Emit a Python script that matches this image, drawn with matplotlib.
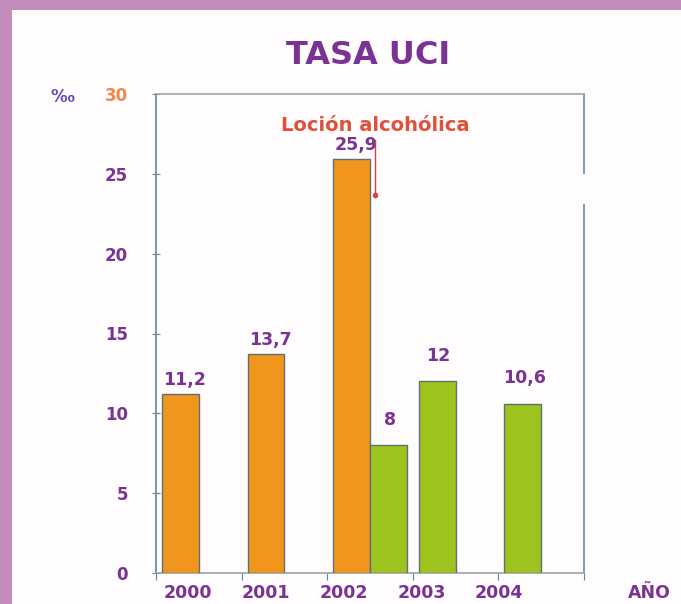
import matplotlib.pyplot as plt
from matplotlib.patches import Rectangle

# data
years = ["2000", "2001", "2002", "2003", "2004"]
orange_vals = [11.2, 13.7, 25.9]          # 2000-2002, before
orange_labels = ["11,2", "13,7", "25,9"]
green_years = [2, 3, 4]                    # index of category
green_slot = [1, 0, 0]                     # 2002 green sits beside orange
green_vals = [8, 12, 10.6]
green_labels = ["8", "12", "10,6"]
yticks = [0, 5, 10, 15, 20, 25, 30]
note = "Loción alcohólica"
note_x = 2.56

W, H = 681, 604
purple = "#7a3393"
orange = "#f0961c"
green = "#9dc41e"
edge = "#5f6f78"

fig = plt.figure(figsize=(W / 100, H / 100), dpi=100)
fig.patch.set_facecolor("#c48cbd")
# white panel inside the mauve frame
fig.patches.append(Rectangle((12 / W, 0), 1, (H - 10) / H, transform=fig.transFigure,
                             facecolor="#fffcfe", edgecolor="none", zorder=-1))

ax = fig.add_axes([156 / W, 31 / H, 428 / W, 479 / H])
ax.set_facecolor("#fffcfe")
ax.set_xlim(0, 5)
ax.set_ylim(0, 30)

slot_w = 0.43
slot_c = [0.285, 0.715]

ax.bar([i + slot_c[0] for i in range(len(orange_vals))], orange_vals, width=slot_w,
       color=orange, edgecolor=edge, linewidth=1, zorder=3)
gx = [i + slot_c[s] for i, s in zip(green_years, green_slot)]
ax.bar(gx, green_vals, width=slot_w, color=green, edgecolor=edge, linewidth=1, zorder=3)

for i, (v, t) in enumerate(zip(orange_vals, orange_labels)):
    ax.annotate(t, (i + slot_c[0], v), xytext=(3, 4), textcoords="offset points",
                ha="center", va="bottom", fontsize=12.5, fontweight="bold", color=purple)
for x, v, t in zip(gx, green_vals, green_labels):
    ax.annotate(t, (x, v), xytext=(1, 12), textcoords="offset points",
                ha="center", va="bottom", fontsize=12.5, fontweight="bold", color=purple)

# "Loción alcohólica" marker
ax.text(note_x, 28.05, note, ha="center", va="center", fontsize=14,
        fontweight="bold", color="#e0503a")
ax.plot([note_x, note_x], [27.1, 23.7], color="#d84040", linewidth=1, zorder=4)
ax.plot([note_x], [23.7], marker="o", markersize=3, color="#d84040", zorder=4)

# spines
ax.spines["left"].set_color("#5b87a6")
ax.spines["right"].set_color("#6d8aa2")
ax.spines["top"].set_color("#a4a4ac")
ax.spines["bottom"].set_color("#9aa4b0")
for s in ax.spines.values():
    s.set_linewidth(1.2)

# y axis
ax.set_yticks(yticks)
ax.set_yticklabels([str(t) for t in yticks])
ax.tick_params(axis="y", direction="inout", length=6, color="#5b87a6", pad=17,
               labelsize=12)
for lab in ax.get_yticklabels():
    lab.set_fontweight("bold")
    lab.set_color(purple)
ax.get_yticklabels()[-1].set_color("#ec8a4c")

# x axis: ticks on boundaries, labels on their own
ax.set_xticks(range(6))
ax.set_xticklabels([])
ax.tick_params(axis="x", direction="out", length=5, color="#5b87a6")
ax.set_xticks([0.37 + 0.91 * i for i in range(len(years))], minor=True)
ax.set_xticklabels(years, minor=True)
ax.tick_params(axis="x", which="minor", length=0, pad=8, labelsize=12.5)
for lab in ax.get_xticklabels(minor=True):
    lab.set_fontweight("bold")
    lab.set_color(purple)

# gap in the right spine
fig.patches.append(Rectangle((578 / W, (H - 204) / H), 14 / W, 30 / H,
                             transform=fig.transFigure, facecolor="#fffcfe",
                             edgecolor="none", zorder=5))

fig.text(368 / W, 1 - 55 / H, "TASA UCI", ha="center", va="center",
         fontsize=23, fontweight="bold", color=purple)
fig.text(62 / W, 1 - 97 / H, "‰", ha="center", va="center",
         fontsize=12, fontweight="bold", color="#6a4ab0")
fig.text(628 / W, 1 - 593 / H, "AÑO", ha="left", va="center",
         fontsize=12.5, fontweight="bold", color=purple)

fig.savefig("out.png", dpi=100, facecolor=fig.get_facecolor())
